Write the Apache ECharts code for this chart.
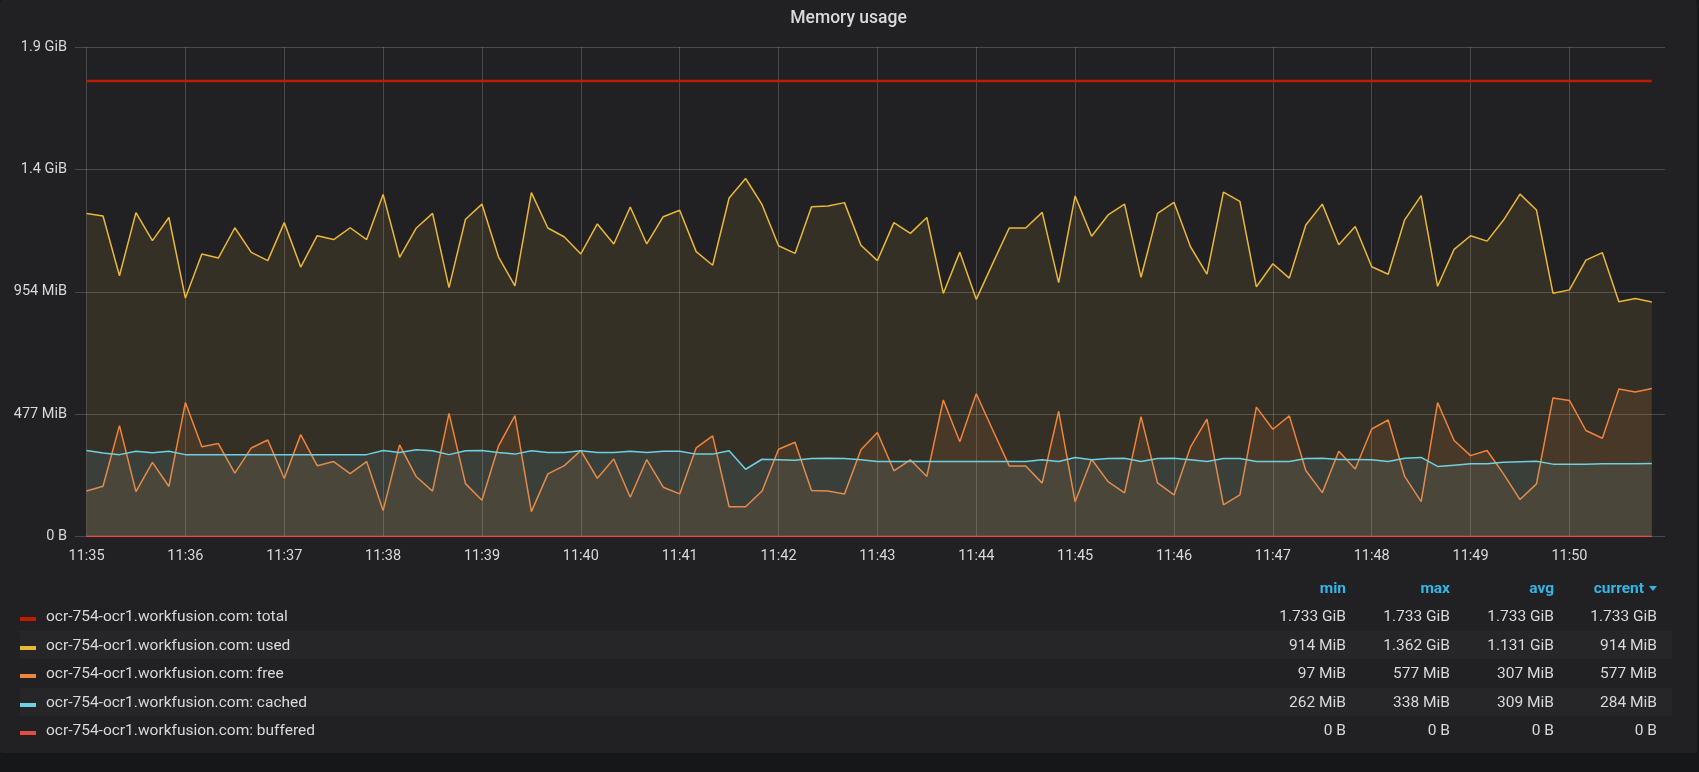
<!DOCTYPE html>
<html>
<head>
<meta charset="utf-8">
<title>Memory usage</title>
<script src="https://cdn.jsdelivr.net/npm/echarts/dist/echarts.min.js"></script>
<style>
  html, body { margin: 0; padding: 0; background: #161719; }
  body { width: 1699px; height: 772px; position: relative; overflow: hidden; font-family: Roboto, "Noto Sans", sans-serif; }
  .panel { position: absolute; left: 0; top: 0; width: 1697px; height: 753px; background: #212124; border-radius: 3px; }
  #memChart { position: absolute; left: 0; top: 0; width: 1697px; height: 772px; }
  .legend { position: absolute; left: 20px; top: 575px; width: 1652px; color: #d8d9da; font-size: 15.5px; }
  .legend .row { position: relative; height: 28.6px; line-height: 28.6px; white-space: nowrap; }
  .legend .row.alt { background: #262628; }
  .legend .head { height: 27px; line-height: 27px; color: #33b5e5; font-weight: 700; }
  .legend .swatch { position: absolute; left: 0; top: 15px; width: 16px; height: 4px; }
  .legend .name { position: absolute; left: 26px; top: 0; }
  .legend .val { position: absolute; top: 0; width: 110px; text-align: right; }
  .legend .caret { display: inline-block; width: 0; height: 0; margin-left: 5px; vertical-align: middle;
                   border-left: 4px solid transparent; border-right: 4px solid transparent; border-top: 5px solid #33b5e5; }
</style>
</head>
<body>
<div class="panel"></div>
<div id="memChart"></div>
<div class="legend" id="legend"></div>
<script type="text/javascript">
// samples every 10s starting at 11:35:00, values in MiB
var startTime = [11, 35, 0];
var stepSec = 10;

var usedMiB = [1259, 1249, 1016, 1262, 1153, 1243, 929, 1101, 1085, 1203,
               1107, 1075, 1223, 1050, 1172, 1157, 1203, 1157, 1333, 1088,
               1201, 1259, 970, 1236, 1295, 1090, 977, 1340, 1202, 1167,
               1101, 1218, 1140, 1284, 1140, 1246, 1271, 1110, 1057, 1319,
               1395, 1293, 1133, 1103, 1285, 1288, 1301, 1135, 1075, 1223,
               1181, 1243, 947, 1108, 924, 1064, 1202, 1202, 1263, 989,
               1327, 1170, 1253, 1295, 1010, 1259, 1302, 1129, 1022, 1342,
               1306, 973, 1063, 1007, 1214, 1295, 1137, 1208, 1051, 1022,
               1234, 1328, 975, 1119, 1172, 1151, 1233, 1334, 1272, 948,
               961, 1077, 1106, 915, 927, 914];

var freeMiB = [177, 196, 432, 175, 289, 195, 522, 350, 362, 247,
               345, 376, 226, 397, 276, 292, 245, 292, 101, 357,
               234, 177, 480, 206, 141, 352, 471, 97, 244, 276,
               335, 227, 302, 153, 300, 192, 166, 345, 392, 116,
               116, 177, 340, 367, 179, 177, 166, 338, 405, 256,
               299, 234, 532, 369, 556, 415, 275, 275, 208, 488,
               135, 301, 214, 170, 467, 209, 162, 348, 457, 123,
               162, 504, 418, 470, 257, 171, 332, 263, 419, 454,
               234, 136, 522, 374, 315, 335, 244, 144, 205, 540,
               530, 413, 383, 575, 563, 577];

var cachedMiB = [335, 325, 319, 332, 326, 332, 319, 319, 319, 319,
                 319, 319, 319, 319, 319, 319, 319, 319, 335, 327,
                 338, 334, 319, 334, 335, 327, 321, 334, 327, 327,
                 334, 327, 327, 332, 327, 332, 332, 321, 321, 334,
                 262, 301, 299, 297, 304, 305, 304, 299, 292, 292,
                 292, 292, 292, 292, 292, 292, 292, 292, 299, 292,
                 308, 299, 304, 305, 292, 304, 305, 299, 292, 304,
                 304, 292, 292, 292, 304, 305, 300, 300, 299, 292,
                 305, 308, 273, 278, 283, 283, 289, 291, 293, 282,
                 282, 282, 283, 283, 283, 284];

var totalMiB = [1774.6, 1774.6, 1774.6, 1774.6, 1774.6, 1774.6, 1774.6, 1774.6, 1774.6, 1774.6,
                1774.6, 1774.6, 1774.6, 1774.6, 1774.6, 1774.6, 1774.6, 1774.6, 1774.6, 1774.6,
                1774.6, 1774.6, 1774.6, 1774.6, 1774.6, 1774.6, 1774.6, 1774.6, 1774.6, 1774.6,
                1774.6, 1774.6, 1774.6, 1774.6, 1774.6, 1774.6, 1774.6, 1774.6, 1774.6, 1774.6,
                1774.6, 1774.6, 1774.6, 1774.6, 1774.6, 1774.6, 1774.6, 1774.6, 1774.6, 1774.6,
                1774.6, 1774.6, 1774.6, 1774.6, 1774.6, 1774.6, 1774.6, 1774.6, 1774.6, 1774.6,
                1774.6, 1774.6, 1774.6, 1774.6, 1774.6, 1774.6, 1774.6, 1774.6, 1774.6, 1774.6,
                1774.6, 1774.6, 1774.6, 1774.6, 1774.6, 1774.6, 1774.6, 1774.6, 1774.6, 1774.6,
                1774.6, 1774.6, 1774.6, 1774.6, 1774.6, 1774.6, 1774.6, 1774.6, 1774.6, 1774.6,
                1774.6, 1774.6, 1774.6, 1774.6, 1774.6, 1774.6];

var bufferedMiB = [0, 0, 0, 0, 0, 0, 0, 0, 0, 0,
                   0, 0, 0, 0, 0, 0, 0, 0, 0, 0,
                   0, 0, 0, 0, 0, 0, 0, 0, 0, 0,
                   0, 0, 0, 0, 0, 0, 0, 0, 0, 0,
                   0, 0, 0, 0, 0, 0, 0, 0, 0, 0,
                   0, 0, 0, 0, 0, 0, 0, 0, 0, 0,
                   0, 0, 0, 0, 0, 0, 0, 0, 0, 0,
                   0, 0, 0, 0, 0, 0, 0, 0, 0, 0,
                   0, 0, 0, 0, 0, 0, 0, 0, 0, 0,
                   0, 0, 0, 0, 0, 0];

var seriesNames = ['ocr-754-ocr1.workfusion.com: total', 'ocr-754-ocr1.workfusion.com: used',
                   'ocr-754-ocr1.workfusion.com: free', 'ocr-754-ocr1.workfusion.com: cached',
                   'ocr-754-ocr1.workfusion.com: buffered'];
var seriesColors = ['#bf1b00', '#eab839', '#ef843c', '#6ed0e0', '#e24d42'];

// legend table values as shown
var statHeads = ['min', 'max', 'avg', 'current'];
var statMin = ['1.733 GiB', '914 MiB', '97 MiB', '262 MiB', '0 B'];
var statMax = ['1.733 GiB', '1.362 GiB', '577 MiB', '338 MiB', '0 B'];
var statAvg = ['1.733 GiB', '1.131 GiB', '307 MiB', '309 MiB', '0 B'];
var statCurrent = ['1.733 GiB', '914 MiB', '577 MiB', '284 MiB', '0 B'];

// y axis: 0 .. 2e9 bytes, ticks every 5e8 bytes
var yMaxMiB = 2e9 / 1048576;
var yStepMiB = 5e8 / 1048576;

var t0 = new Date(2019, 0, 1, startTime[0], startTime[1], startTime[2]).getTime();
var toPairs = function(arr) {
    var out = [];
    for (var i = 0; i < arr.length; i++) {
        out.push([t0 + i * stepSec * 1000, arr[i]]);
    }
    return out;
};

var fmtSize = function(v) {
    if (v === 0) return '0 B';
    if (v < 1024) return Math.round(v) + ' MiB';
    return (v / 1024).toFixed(1) + ' GiB';
};
var pad = function(n) { return n < 10 ? '0' + n : '' + n; };

var allData = [totalMiB, usedMiB, freeMiB, cachedMiB, bufferedMiB];
var series = [];
for (var s = 0; s < allData.length; s++) {
    var item = {
        name: seriesNames[s],
        type: 'line',
        data: toPairs(allData[s]),
        showSymbol: false,
        symbol: 'none',
        lineStyle: { color: seriesColors[s], width: s === 0 ? 2.5 : 1.5 },
        itemStyle: { color: seriesColors[s] },
        z: 2 + s
    };
    if (s >= 1 && s <= 3) {
        item.areaStyle = { color: seriesColors[s], opacity: 0.1 };
    }
    series.push(item);
}

var gridColor = 'rgba(200,200,200,0.24)';
var axisText = { color: '#d8d9da', fontSize: 14.5, fontFamily: 'Roboto' };
var option = {
    animation: false,
    title: {
        text: 'Memory usage',
        left: 'center',
        top: 5,
        textStyle: { color: '#d8d9da', fontSize: 17.5, fontWeight: 500, fontFamily: 'Roboto' }
    },
    grid: { left: 75, right: 32, top: 47, bottom: 235.5, containLabel: false },
    xAxis: {
        type: 'time',
        min: t0 - 7000,
        max: t0 + 958000,
        minInterval: 60000,
        maxInterval: 60000,
        axisLine: { show: false },
        axisTick: { show: false },
        axisLabel: Object.assign({
            margin: 12,
            showMinLabel: false,
            showMaxLabel: false,
            hideOverlap: false,
            formatter: function(v) {
                var d = new Date(v);
                return pad(d.getHours()) + ':' + pad(d.getMinutes());
            }
        }, axisText),
        splitLine: { show: true, showMinLine: false, showMaxLine: false,
                     lineStyle: { color: gridColor, width: 1 } }
    },
    yAxis: {
        type: 'value',
        min: 0,
        max: yMaxMiB,
        interval: yStepMiB,
        axisLine: { show: false },
        axisTick: { show: false },
        axisLabel: Object.assign({ margin: 8, formatter: fmtSize }, axisText),
        splitLine: { lineStyle: { color: gridColor, width: 1 } }
    },
    series: series
};

var charts = echarts.init(document.getElementById('memChart'));
charts.setOption(option);

// legend table
var buildLegend = function() {
    var colRight = [326, 222, 118, 15];
    var html = '<div class="row head">';
    for (var c = 0; c < statHeads.length; c++) {
        var label = statHeads[c];
        if (c === statHeads.length - 1) label += '<span class="caret"></span>';
        html += '<span class="val" style="right:' + colRight[c] + 'px">' + label + '</span>';
    }
    html += '</div>';
    var cols = [statMin, statMax, statAvg, statCurrent];
    for (var r = 0; r < seriesNames.length; r++) {
        html += '<div class="row' + (r % 2 === 1 ? ' alt' : '') + '">';
        html += '<span class="swatch" style="background:' + seriesColors[r] + '"></span>';
        html += '<span class="name">' + seriesNames[r] + '</span>';
        for (var k = 0; k < cols.length; k++) {
            html += '<span class="val" style="right:' + colRight[k] + 'px">' + cols[k][r] + '</span>';
        }
        html += '</div>';
    }
    document.getElementById('legend').innerHTML = html;
};
buildLegend();
</script>
</body>
</html>
